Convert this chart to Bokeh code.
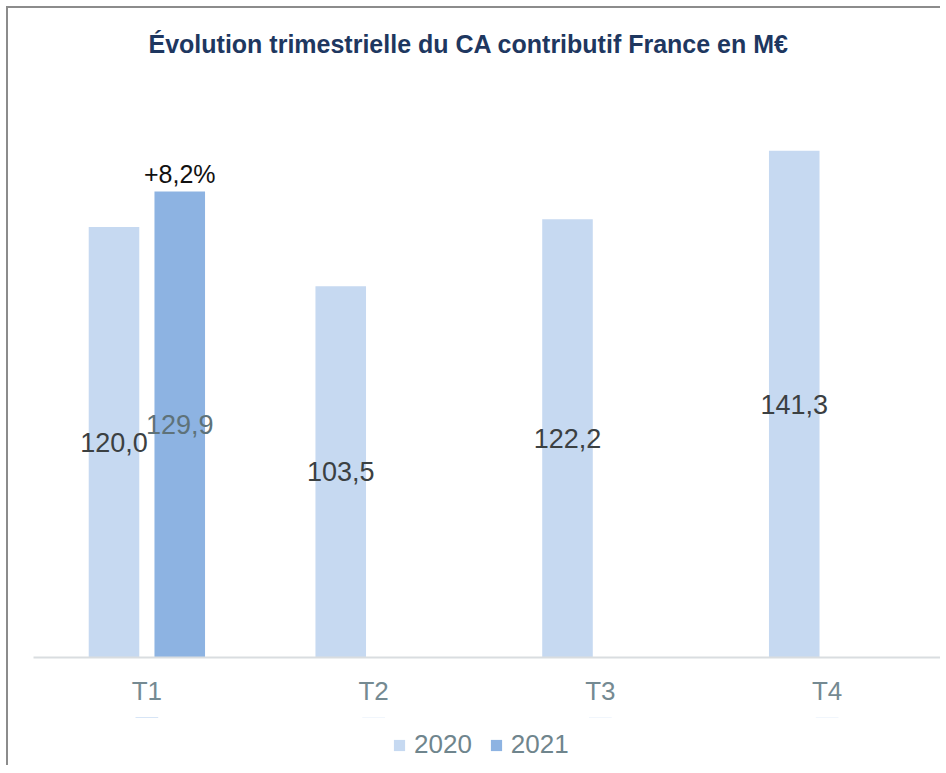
from bokeh.plotting import figure
from bokeh.layouts import column
from bokeh.models import ColumnDataSource, FactorRange, Range1d, Legend, LegendItem, Title
from bokeh.transform import dodge
from bokeh.core.properties import value
from bokeh.embed import file_html
from bokeh.resources import INLINE

# ---- data ----
quarters = ["T1", "T2", "T3", "T4"]
ca_2020 = [120.0, 103.5, 122.2, 141.3]
quarters_2021 = ["T1"]
ca_2021 = [129.9]
growth_labels = ["+8,2%"]
series_names = ["2020", "2021"]
title_text = "Évolution trimestrielle du CA contributif France en M€"

def fmt(v):
    return f"{v:.1f}".replace(".", ",")

src20 = ColumnDataSource(dict(q=quarters, v=ca_2020, mid=[v / 2 for v in ca_2020],
                              lab=[fmt(v) for v in ca_2020]))
src21 = ColumnDataSource(dict(q=quarters_2021, v=ca_2021, mid=[v / 2 for v in ca_2021],
                              lab=[fmt(v) for v in ca_2021], g=growth_labels))

FONT = "Liberation Sans"
C20 = "#C6D9F1"
C21 = "#8DB3E2"

p = figure(frame_width=907, frame_height=557, output_backend="svg", toolbar_location=None,
           x_range=FactorRange(factors=quarters, start=0, end=4.05),
           y_range=Range1d(0, 155.3),
           min_border_left=25, min_border_right=0, min_border_top=92, min_border_bottom=60)

p.title.text = title_text
p.title.align = "left"
p.title.offset = 115
p.title.text_font = FONT
p.title.text_font_size = "25px"
p.title.text_font_style = "bold"
p.title.text_color = "#1E3760"
p.title.standoff = 10
# spacer between title and plot area
p.add_layout(Title(text=" ", text_font_size="1px", standoff=35), "above")

p.outline_line_color = None
p.xgrid.grid_line_color = None
p.ygrid.grid_line_color = None
p.yaxis.visible = False

p.xaxis.axis_line_color = "#D9DDE0"
p.xaxis.axis_line_width = 2
p.xaxis.major_tick_line_color = None
p.xaxis.minor_tick_line_color = None
p.xaxis.major_label_text_font = FONT
p.xaxis.major_label_text_font_size = "26px"
p.xaxis.major_label_text_color = "#758A92"
p.xaxis.major_label_standoff = 12

w = 0.223
off = 0.145
p.vbar(x=dodge("q", -off, range=p.x_range), top="v", width=w, source=src20,
       fill_color=C20, line_color=None)
p.vbar(x=dodge("q", off, range=p.x_range), top="v", width=w, source=src21,
       fill_color=C21, line_color=None)

p.text(x=dodge("q", -off, range=p.x_range), y="mid", text="lab", source=src20,
       text_font=value(FONT), text_font_size="27px", text_color="#3B4042",
       text_align="center", text_baseline="middle")
p.text(x=dodge("q", off, range=p.x_range), y="mid", text="lab", source=src21,
       text_font=value(FONT), text_font_size="27px", text_color="#5E7279",
       text_align="center", text_baseline="middle")
p.text(x=dodge("q", off, range=p.x_range), y="v", text="g", source=src21,
       text_font=value(FONT), text_font_size="25px", text_color="#111111",
       text_align="center", text_baseline="bottom", y_offset=-4)

# legend strip below the chart (series renderers kept out of view, only swatches show)
lg = figure(width=932, height=48, output_backend="svg", toolbar_location=None,
            x_range=FactorRange(factors=quarters), y_range=Range1d(-2, -1), min_border=0)
lg.axis.visible = False
lg.grid.grid_line_color = None
lg.outline_line_color = None
l20 = lg.vbar(x="q", top="v", bottom=0, width=0.1, source=src20, fill_color=C20, line_color=None)
l21 = lg.vbar(x="q", top="v", bottom=0, width=0.1, source=src21, fill_color=C21, line_color=None)

legend = Legend(items=[LegendItem(label=series_names[0], renderers=[l20]),
                       LegendItem(label=series_names[1], renderers=[l21])],
                orientation="horizontal", location=(359, 5),
                border_line_color=None, background_fill_alpha=0,
                glyph_width=14, glyph_height=14, label_standoff=8, spacing=17,
                label_text_font=FONT, label_text_font_size="26px",
                label_text_color="#6F858D", padding=0, margin=0)
lg.add_layout(legend, "center")

layout = column(p, lg, spacing=0,
                styles={"margin-left": "6px", "margin-top": "6px",
                        "border-left": "2px solid #8c8c8c", "border-top": "2px solid #8c8c8c"})

open("out.html", "w").write(file_html(layout, INLINE))
